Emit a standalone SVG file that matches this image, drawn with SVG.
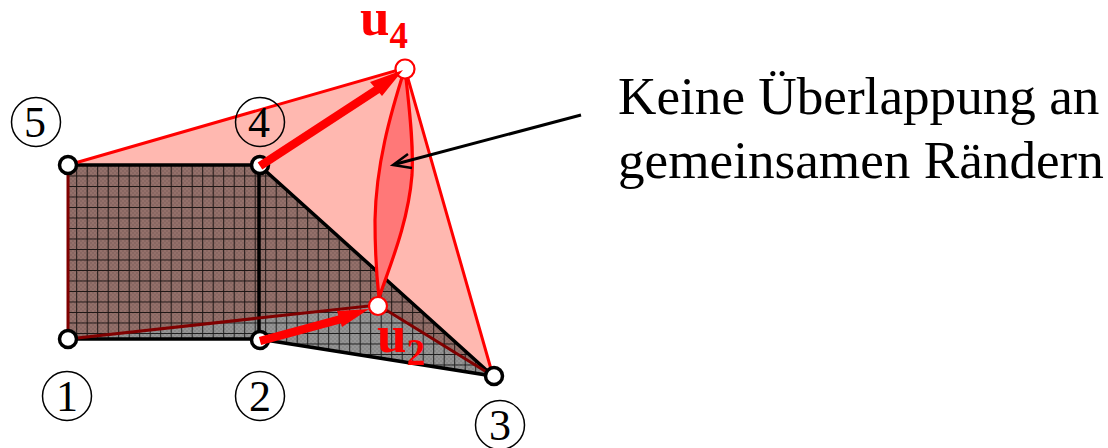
<svg xmlns="http://www.w3.org/2000/svg" width="1108" height="448" viewBox="0 0 1108 448">
<style>
.t{font-family:"Liberation Serif","Times New Roman",serif;fill:#000}
.lbl{font-size:53.2px}
.num{font-size:44px;text-anchor:middle}
.u{font-family:"Liberation Serif","Times New Roman",serif;font-weight:bold;fill:#f00;font-size:53px}
.sub{font-size:37px}
.ring{fill:none;stroke:#000;stroke-width:1.5}
.dot{fill:#fff;stroke:#000;stroke-width:3.5}
.rdot{fill:#fff;stroke:#f00;stroke-width:2.2}
.edge{fill:none;stroke:#000;stroke-width:3.5}
.red{fill:none;stroke:#f00;stroke-width:3}
.dark{fill:none;stroke:#800000;stroke-width:3}
.arrow{stroke:#f00;stroke-width:8.5;fill:none}
.head{fill:#f00}
</style>
<defs>
<pattern id="mesh" width="10.5" height="10.5" patternUnits="userSpaceOnUse" x="2.7" y="7.5">
<path d="M0 .5H10.5M.5 0V10.5" stroke="#000" stroke-width="1" fill="none" opacity=".8"/>
</pattern>
<pattern id="dither" width="4" height="4" patternUnits="userSpaceOnUse">
<path d="M0 0h2v2H0zM2 2h2v2H2z" fill="#000" opacity=".08"/>
</pattern>
</defs>
<g id="deformed-faces">
<polygon points="68,165 405,68 493,376 259,165" fill="#ffb8b0"/>
</g>
<g id="mesh-faces">
<polygon points="68,165 259,165 493,376 378,305 68,339" fill="#94706a"/>
<polygon points="68,339 378,305 493,376 259,339" fill="#959595"/>
<polygon points="68,165 259,165 493,376 259,339 68,339" fill="url(#dither)"/>
<polygon points="68,165 259,165 493,376 259,339 68,339" fill="url(#mesh)"/>
</g>
<g id="edges">
<path class="edge" d="M68,165H259M68,339H259M259,165V339M259,165L493,376L259,339"/>
<path class="dark" d="M68,165V339M68,339L378,305L493,376"/>
<path class="red" d="M68,165L405,68L493,376"/>
<path d="M405,68C390,115 376,165 375,220C375,250 377,280 379,298C388,270 408,225 412,175C414,140 408,100 405,68Z" fill="#ff7878" stroke="#f00" stroke-width="3.2"/>
</g>
<g id="n1"><circle class="dot" cx="68" cy="339" r="8.5"/><circle class="ring" cx="67" cy="396" r="24.5"/><text class="t num" x="67" y="411">1</text></g>
<g id="n2"><circle class="dot" cx="260" cy="340" r="8.5"/><circle class="ring" cx="260" cy="396" r="24.5"/><text class="t num" x="260" y="411">2</text></g>
<g id="n3"><circle class="dot" cx="494" cy="376" r="8.5"/><circle class="ring" cx="500" cy="425" r="24.5"/><text class="t num" x="500" y="440">3</text></g>
<g id="n4"><circle class="dot" cx="260" cy="165" r="8.5"/><circle class="ring" cx="260" cy="122" r="24.5"/><text class="t num" x="259" y="137">4</text></g>
<g id="n5"><circle class="dot" cx="68" cy="165" r="8.5"/><circle class="ring" cx="36" cy="122" r="24.5"/><text class="t num" x="35" y="137">5</text></g>
<g id="u2"><circle class="rdot" cx="378" cy="306" r="9"/><text class="u" x="377" y="352">u<tspan class="sub" dy="13">2</tspan></text></g>
<g id="u4"><circle class="rdot" cx="405" cy="69" r="9.5"/><text class="u" x="360" y="35">u<tspan class="sub" dy="13">4</tspan></text></g>
<g id="connectors">
<path class="arrow" d="M260,166L378,89"/>
<polygon class="head" points="403,70 382,96 370,82"/>
<path class="arrow" d="M260,341L345,318"/>
<polygon class="head" points="369,309 342,327 337,311"/>
<path d="M581,115L396,164" stroke="#000" stroke-width="3" fill="none"/>
<path d="M408,154L393,165L412,168" stroke="#000" stroke-width="2.5" fill="none"/>
</g>
<g id="note"><text class="t lbl" x="618" y="114">Keine Überlappung an</text><text class="t lbl" x="618" y="178">gemeinsamen Rändern</text></g>
</svg>
